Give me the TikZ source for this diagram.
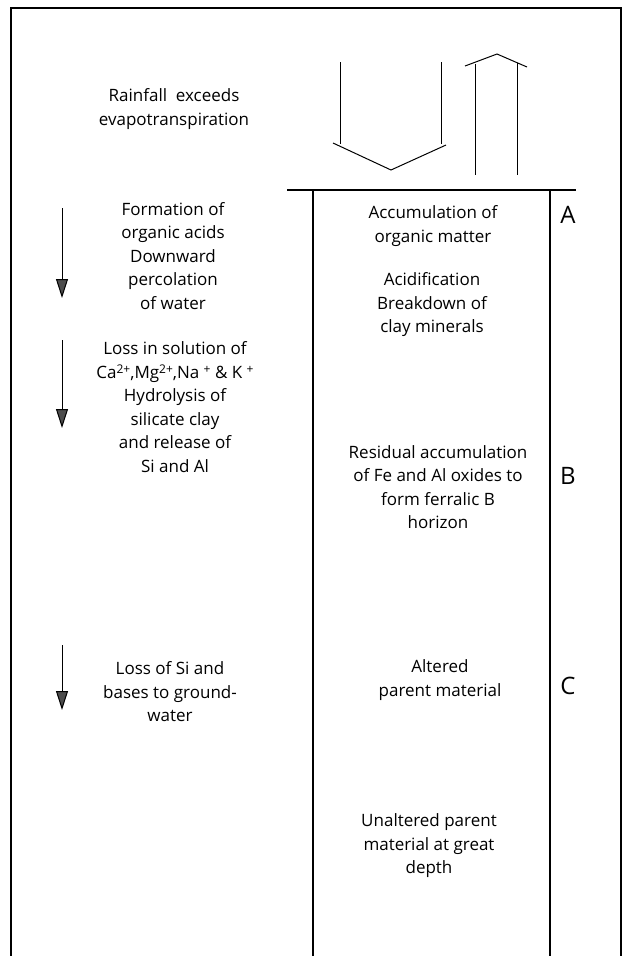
\documentclass[tikz,border=0pt]{standalone}
\usepackage{fontspec}
\setmainfont{Open Sans}
\usetikzlibrary{arrows.meta}
\newcommand{\supx}[1]{\raisebox{0.55ex}{\fontsize{12}{12}\selectfont #1}}
\begin{document}
\begin{tikzpicture}[x=1pt,y=-1pt,
  txt/.style={align=center,inner sep=0pt,font=\fontsize{17}{23.5}\selectfont},
  hlab/.style={inner sep=0pt,font=\fontsize{24}{26}\selectfont},
  rule/.style={line width=1.2pt},
  thin/.style={line width=1pt},
  darr/.style={line width=1pt,-{Triangle[width=12pt,length=19pt,fill=black!70]}}]
\useasboundingbox (0,0) rectangle (626,956);
% frame
\draw[line width=1.4pt] (11,956) -- (11,8) -- (621,8) -- (621,956);
% surface and columns
\draw[rule] (287,190) -- (576,190);
\draw[rule] (313,190) -- (313,956);
\draw[rule] (550,190) -- (550,956);
% rainfall (down) arrow
\draw[thin] (340,62) -- (340,144);
\draw[thin] (441,62) -- (441,144);
\draw[thin] (333,143) -- (391,170) -- (446,145);
% evapotranspiration (up) arrow
\draw[thin] (475,64) -- (475,175);
\draw[thin] (517,63) -- (517,175);
\draw[thin] (465,66) -- (497,54) -- (527,67);
% left arrows
\coordinate (a1s) at (62,208); \coordinate (a1e) at (62,298);
\coordinate (a2s) at (62,340); \coordinate (a2e) at (62,428);
\coordinate (a3s) at (62,645); \coordinate (a3e) at (62,710);
\draw[darr] (a1s) -- (a1e);
\draw[darr] (a2s) -- (a2e);
\draw[darr] (a3s) -- (a3e);
% left texts
\node[txt] (rain) at (174,109) {Rainfall\ \ exceeds\\evapotranspiration};
\node[txt] (form) at (173,256) {Formation of\\organic acids\\Downward\\percolation\\of water};
\node[txt] (loss) at (175,407) {Loss in solution of\\Ca\supx{2+},Mg\supx{2+},Na \supx{+} \& K \supx{+}\\Hydrolysis of\\silicate clay\\and release of\\Si and Al};
\node[txt] (lsi) at (170,692) {Loss of Si and\\bases to ground-\\water};
% middle texts
\node[txt] (acc) at (433,226) {Accumulation of\\organic matter};
\node[txt] (acid) at (432,305) {Acidification\\Breakdown of\\clay minerals};
\node[txt] (res) at (438,487) {Residual accumulation\\of Fe and Al oxides to\\form ferralic B\\horizon};
\node[txt] (alt) at (440,680) {Altered\\parent material};
\node[txt] (unalt) at (429,846) {Unaltered parent\\material at great\\depth};
% horizon labels
\node[hlab] (A) at (568,215) {A};
\node[hlab] (B) at (568,476) {B};
\node[hlab] (C) at (568,686) {C};
\end{tikzpicture}
\end{document}
